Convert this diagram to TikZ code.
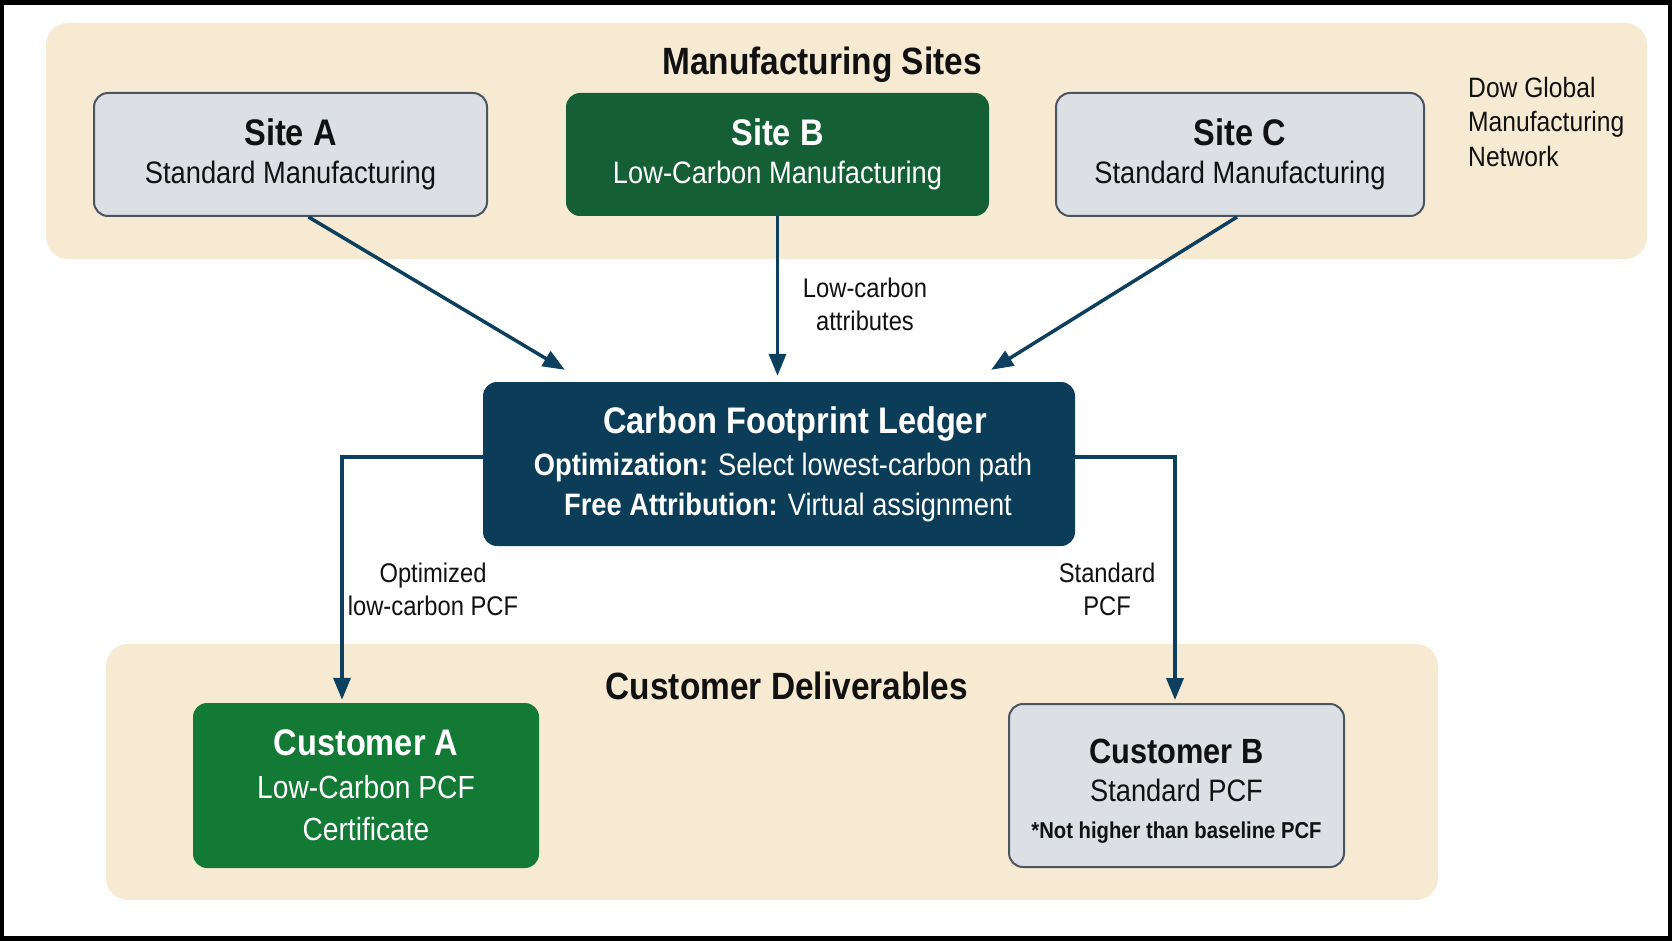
\documentclass[tikz,border=0pt]{standalone}
\usepackage{fontspec}
\setmainfont{Liberation Sans}[FakeStretch=0.88]
\usetikzlibrary{arrows.meta}
\definecolor{bandc}{HTML}{F7EAD3}
\definecolor{greyc}{HTML}{DCDFE3}
\definecolor{greyb}{HTML}{4A5561}
\definecolor{darkgreen}{HTML}{145F35}
\definecolor{brightgreen}{HTML}{137A36}
\definecolor{navy}{HTML}{0B3D58}
\definecolor{arrowc}{HTML}{0D3F5E}
\definecolor{inkc}{HTML}{111111}
\tikzset{
  band/.style={fill=bandc, draw=none, rounded corners=22pt, inner sep=0pt},
  boxbase/.style={rounded corners=14pt, inner sep=0pt, align=center},
  greybox/.style={boxbase, fill=greyc, draw=greyb, line width=2pt, text=inkc},
  greenbox/.style={boxbase, fill=darkgreen, draw=none, text=white},
  brightbox/.style={boxbase, fill=brightgreen, draw=none, text=white},
  navybox/.style={boxbase, fill=navy, draw=none, text=white},
  sitebox/.style={minimum height=123pt, font=\fontsize{31}{38}\selectfont},
  heading/.style={font=\fontsize{38}{44}\selectfont\bfseries, text=inkc, inner sep=0pt},
  lbl/.style={font=\fontsize{27}{33}\selectfont, align=center, inner sep=0pt, text=inkc},
  conn/.style={draw=arrowc, line width=3.5pt, -{Triangle[length=22pt,width=17pt]}}
}
\newcommand{\ttl}[2][37]{{\fontsize{#1}{38}\selectfont\bfseries #2}}
\begin{document}
\begin{tikzpicture}[x=1pt,y=-1pt]
\useasboundingbox (0,0) rectangle (1672,941);
\fill[black] (0,0) rectangle (1672,941);
\fill[white] (4,5) rectangle (1668,936);

% bands
\node[band, minimum width=1601pt, minimum height=236pt] (topband) at (846.5,141) {};
\node[band, minimum width=1332pt, minimum height=256pt] (botband) at (772,772) {};

\node[heading, anchor=base] (mtitle) at (822,75) {Manufacturing Sites};
\node[heading, anchor=base] (ctitle) at (787,699) {Customer Deliverables};

% sites
\node[greybox, sitebox, minimum width=393pt] (siteA) at (290.5,154.5)
  {\ttl{Site A}\\Standard Manufacturing};
\node[greenbox, sitebox, minimum width=423pt] (siteB) at (777.5,154.5)
  {\ttl{Site B}\\Low-Carbon Manufacturing};
\node[greybox, sitebox, minimum width=368pt] (siteC) at (1240,154.5)
  {\ttl{Site C}\\Standard Manufacturing};

\node[anchor=north west, align=left, inner sep=0pt, text=inkc,
      font=\fontsize{28}{34.5}\selectfont] (dow) at (1468,77)
  {Dow Global\\Manufacturing\\Network};

% ledger
\node[navybox, minimum width=592pt, minimum height=164pt,
      font=\fontsize{31}{40}\selectfont] (ledger) at (779,464)
  {\hspace*{32pt}\ttl{Carbon Footprint Ledger}\\[2pt]
   \hspace*{8pt}\textbf{Optimization:} Select lowest-carbon path\\
   \hspace*{18pt}\textbf{Free Attribution:} Virtual assignment};

% customers
\node[brightbox, minimum width=346pt, minimum height=165pt,
      font=\fontsize{32}{42.5}\selectfont] (custA) at (366,785.5)
  {{\fontsize{37}{42.5}\selectfont\bfseries Customer A}\\Low-Carbon PCF\\Certificate};
\node[greybox, minimum width=335pt, minimum height=163pt,
      font=\fontsize{31}{37.5}\selectfont] (custB) at (1176.5,785.5)
  {\rule{0pt}{36pt}{\fontsize{35}{37.5}\selectfont\bfseries Customer B}\\Standard PCF\\
   {\fontsize{23}{37.5}\selectfont\bfseries *Not higher than baseline PCF}};

% connectors
\draw[conn] ([xshift=18pt]siteA.south) -- ([xshift=82pt,yshift=12pt]ledger.north west);
\draw[conn] (siteB.south) -- ([yshift=6pt]ledger.north -| siteB.south);
\draw[conn] ([xshift=-3pt]siteC.south) -- ([xshift=-84pt,yshift=12pt]ledger.north east);
\draw[conn] ([yshift=7pt]ledger.west) -| ([xshift=-24pt,yshift=3pt]custA.north);
\draw[conn] ([yshift=7pt]ledger.east) -| ([xshift=-1.5pt,yshift=3pt]custB.north);

% labels
\node[lbl] (lblB) at (865,304) {Low-carbon\\attributes};
\node[lbl] (lblA) at (433,589) {Optimized\\low-carbon PCF};
\node[lbl] (lblS) at (1107,589) {Standard\\PCF};
\end{tikzpicture}
\end{document}
